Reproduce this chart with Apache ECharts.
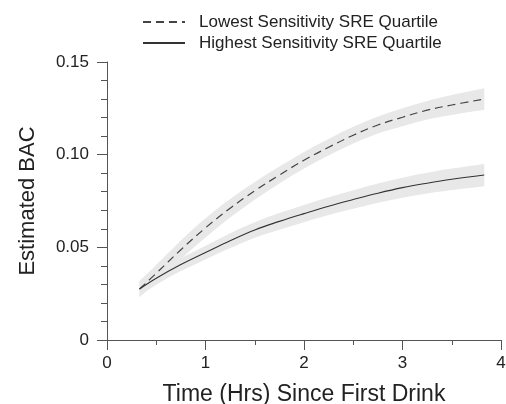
<!DOCTYPE html>
<html>
<head>
<meta charset="utf-8">
<script src="https://cdn.jsdelivr.net/npm/echarts@6/dist/echarts.min.js"></script>
<style>
  html, body { margin: 0; padding: 0; background: #fff; }
  #chart { width: 506px; height: 404px; }
</style>
</head>
<body>
<div id="chart"></div>
<script>
// hours since first drink
var times = [0.33, 0.5, 0.75, 1.0, 1.25, 1.5, 1.75, 2.0, 2.25, 2.5, 2.75, 3.0, 3.25, 3.5, 3.83];

// lowest sensitivity quartile (dashed) + band
var lowMean  = [0.0275, 0.0360, 0.0487, 0.0605, 0.0711, 0.0805, 0.0890, 0.0970, 0.1040, 0.1105, 0.1160, 0.1202, 0.1240, 0.1268, 0.1300];
var lowLower = [0.0230, 0.0315, 0.0437, 0.0553, 0.0661, 0.0757, 0.0844, 0.0925, 0.0995, 0.1060, 0.1114, 0.1154, 0.1190, 0.1214, 0.1242];
var lowUpper = [0.0320, 0.0405, 0.0537, 0.0657, 0.0761, 0.0853, 0.0936, 0.1015, 0.1085, 0.1150, 0.1206, 0.1250, 0.1290, 0.1322, 0.1358];

// highest sensitivity quartile (solid) + band
var highMean  = [0.0275, 0.0333, 0.0407, 0.0472, 0.0536, 0.0594, 0.0640, 0.0682, 0.0722, 0.0758, 0.0792, 0.0822, 0.0846, 0.0867, 0.0890];
var highLower = [0.0235, 0.0298, 0.0372, 0.0435, 0.0496, 0.0552, 0.0595, 0.0635, 0.0674, 0.0708, 0.0740, 0.0768, 0.0790, 0.0809, 0.0830];
var highUpper = [0.0315, 0.0368, 0.0442, 0.0509, 0.0576, 0.0636, 0.0685, 0.0729, 0.0770, 0.0808, 0.0844, 0.0876, 0.0902, 0.0925, 0.0950];

var yTickLabels = ['0', '0.05', '0.10', '0.15'];
var xTickLabels = ['0', '1', '2', '3', '4'];
var seriesNames = ['Lowest Sensitivity SRE Quartile', 'Highest Sensitivity SRE Quartile'];

function pairs(ys) {
  return times.map(function (t, i) { return [t, ys[i]]; });
}

var font = 'Liberation Sans, Arial, Helvetica, sans-serif';
var bandColor = '#e8e8e8';
var smoothness = 0.4;

// catmull-rom -> bezier through pixel points
function curveThrough(pts) {
  var d = '';
  for (var i = 0; i < pts.length - 1; i++) {
    var p0 = pts[i - 1] || pts[i], p1 = pts[i], p2 = pts[i + 1], p3 = pts[i + 2] || pts[i + 1];
    var c1x = p1[0] + (p2[0] - p0[0]) / 6, c1y = p1[1] + (p2[1] - p0[1]) / 6;
    var c2x = p2[0] - (p3[0] - p1[0]) / 6, c2y = p2[1] - (p3[1] - p1[1]) / 6;
    d += ' C' + c1x + ',' + c1y + ' ' + c2x + ',' + c2y + ' ' + p2[0] + ',' + p2[1];
  }
  return d;
}

// confidence band drawn as one filled path, positioned with api.coord
function band(name, lo, hi) {
  return {
    name: name,
    type: 'custom',
    data: [[times[0], lo[0]]],
    silent: true,
    z: 1,
    renderItem: function (params, api) {
      var top = times.map(function (t, i) { return api.coord([t, hi[i]]); });
      var bot = times.map(function (t, i) { return api.coord([t, lo[i]]); }).reverse();
      var d = 'M' + top[0][0] + ',' + top[0][1] + curveThrough(top) +
              ' L' + bot[0][0] + ',' + bot[0][1] + curveThrough(bot) + ' Z';
      return {
        type: 'path',
        shape: { pathData: d },
        style: { fill: bandColor, stroke: null }
      };
    }
  };
}

var chart = echarts.init(document.getElementById('chart'));
chart.setOption({
  animation: false,
  textStyle: { fontFamily: font },
  grid: { left: 107, right: 5, top: 62, bottom: 64, outerBoundsMode: 'none' },
  legend: {
    data: seriesNames,
    orient: 'vertical',
    left: 142,
    top: 12,
    padding: 0,
    itemWidth: 42,
    itemHeight: 14,
    itemGap: 1,
    itemStyle: { opacity: 0 },
    textStyle: { fontSize: 17, color: '#222', lineHeight: 20, padding: [0, 0, 0, 9] }
  },
  xAxis: {
    type: 'value',
    min: 0,
    max: 4,
    interval: 1,
    name: 'Time (Hrs) Since First Drink',
    nameLocation: 'middle',
    nameGap: 43,
    nameTextStyle: { fontSize: 23, color: '#222' },
    axisLine: { lineStyle: { color: '#555', width: 1 } },
    axisTick: { length: 10, lineStyle: { color: '#555' } },
    minorTick: { show: true, splitNumber: 2, length: 5, lineStyle: { color: '#555' } },
    splitLine: { show: false },
    axisLabel: {
      fontSize: 17, color: '#222', margin: 15,
      formatter: function (v) { return xTickLabels[Math.round(v)]; }
    }
  },
  yAxis: {
    type: 'value',
    min: 0,
    max: 0.15,
    interval: 0.05,
    name: 'Estimated BAC',
    nameLocation: 'middle',
    nameGap: 68,
    nameTextStyle: { fontSize: 22, color: '#222' },
    axisLine: { show: true, lineStyle: { color: '#555', width: 1 } },
    axisTick: { show: true, length: 10, lineStyle: { color: '#555' } },
    minorTick: { show: true, splitNumber: 5, length: 6, lineStyle: { color: '#555' } },
    splitLine: { show: false },
    axisLabel: {
      fontSize: 17, color: '#222', margin: 18,
      formatter: function (v) { return yTickLabels[Math.round(v / 0.05)]; }
    }
  },
  series: [
    band('lowBand', lowLower, lowUpper),
    band('highBand', highLower, highUpper),
    {
      name: seriesNames[0],
      type: 'line',
      data: pairs(lowMean),
      smooth: smoothness,
      symbol: 'none',
      lineStyle: { color: '#444', width: 1.2, type: [8, 5] },
      itemStyle: { color: '#444' },
      z: 3
    }, {
      name: seriesNames[1],
      type: 'line',
      data: pairs(highMean),
      smooth: smoothness,
      symbol: 'none',
      lineStyle: { color: '#333', width: 1.1 },
      itemStyle: { color: '#333' },
      z: 3
    }
  ]
});
</script>
</body>
</html>
